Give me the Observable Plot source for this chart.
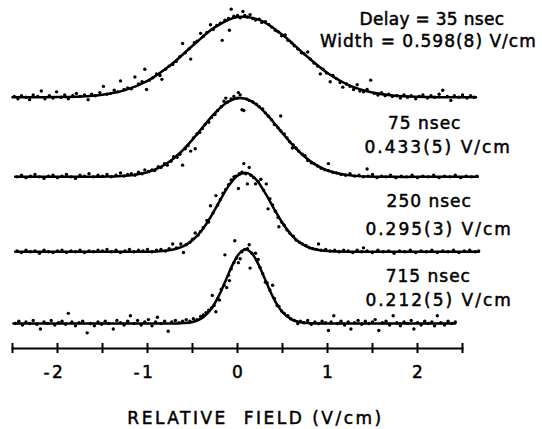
<!DOCTYPE html>
<html>
<head>
<meta charset="utf-8">
<script src="https://cdn.jsdelivr.net/npm/d3@7"></script>
<script src="https://cdn.jsdelivr.net/npm/@observablehq/plot@0.6"></script>
<style>
  html, body { margin: 0; padding: 0; background: #fff; }
  #chart svg { display: block; }
</style>
</head>
<body>
<div id="chart"></div>
<script>
// Field-ionization line profiles at four delays, each with its Gaussian fit.
const delays = [35, 75, 250, 715];              // nsec
const widths = [0.598, 0.433, 0.295, 0.212];    // V/cm
const widthErrors = [8, 5, 3, 5];               // last-digit uncertainty
const traceOffsets = [2.9, 1.88, 0.92, 0];      // vertical display offset of each trace

const majorTicks = [-2, -1, 0, 1, 2];
const minorTicks = [-2.5, -2, -1.5, -1, -0.5, 0, 0.5, 1, 1.5, 2, 2.5];
const axisLabel = "RELATIVE  FIELD (V/cm)";

// Fitted curves: [field, signal]
const curve35 = [[-2.5,0],[-2.25,0.001],[-2,0.003],[-1.75,0.010],[-1.5,0.034],[-1.25,0.092],[-1,0.211],[-0.75,0.407],[-0.5,0.660],[-0.25,0.899],[0,1.029],[0.25,0.990],[0.5,0.801],[0.75,0.545],[1,0.312],[1.25,0.150],[1.5,0.061],[1.75,0.021],[2,0.006],[2.25,0.001],[2.5,0],[2.65,0]];
const curve75 = [[-2.47,0],[-2,0],[-1.75,0],[-1.5,0.002],[-1.25,0.013],[-1,0.060],[-0.875,0.114],[-0.75,0.200],[-0.625,0.322],[-0.5,0.478],[-0.375,0.652],[-0.25,0.819],[-0.125,0.947],[0,1.008],[0.125,0.986],[0.25,0.888],[0.375,0.736],[0.5,0.560],[0.625,0.393],[0.75,0.254],[0.875,0.150],[1,0.082],[1.25,0.019],[1.5,0.003],[1.75,0],[2,0],[2.67,0]];
const curve250 = [[-2.47,0],[-1.5,0],[-1,0.001],[-0.9,0.004],[-0.8,0.012],[-0.7,0.031],[-0.6,0.071],[-0.5,0.147],[-0.4,0.269],[-0.3,0.442],[-0.2,0.646],[-0.1,0.841],[0,0.976],[0.1,1.011],[0.2,0.933],[0.3,0.767],[0.4,0.562],[0.5,0.368],[0.6,0.214],[0.7,0.111],[0.8,0.051],[0.9,0.021],[1,0.008],[1.1,0.003],[1.2,0.001],[1.5,0],[2.68,0]];
const curve715 = [[-2.49,0],[-1,0],[-0.7,0.001],[-0.6,0.005],[-0.5,0.020],[-0.4,0.066],[-0.3,0.175],[-0.25,0.263],[-0.2,0.373],[-0.15,0.500],[-0.1,0.636],[-0.05,0.764],[0,0.868],[0.05,0.933],[0.1,0.950],[0.15,0.913],[0.2,0.830],[0.25,0.715],[0.3,0.582],[0.35,0.448],[0.4,0.326],[0.45,0.225],[0.5,0.147],[0.6,0.053],[0.7,0.015],[0.8,0.004],[0.9,0.001],[1,0],[2.42,0]];

// Measured points: [field, signal]
const dots35 = [[-2.48,0.01],[-2.44,-0.02],[-2.40,0.02],[-2.35,0.00],[-2.31,-0.03],[-2.27,0.03],[-2.22,0.01],[-2.18,0.08],[-2.14,-0.02],[-2.09,0.02],[-2.05,-0.01],[-2.01,0.07],[-1.96,0.00],[-1.92,0.03],[-1.88,-0.02],[-1.83,0.02],[-1.79,0.05],[-1.75,0.01],[-1.70,0.03],[-1.66,-0.03],[-1.62,0.04],[-1.58,0.02],[-1.53,0.06],[-1.49,0.14],[-1.45,0.04],
[-1.41,0.05],[-1.37,0.09],[-1.33,0.07],[-1.30,0.21],[-1.26,0.10],[-1.22,0.12],[-1.18,0.11],[-1.14,0.26],[-1.10,0.17],[-1.06,0.20],[-1.03,0.36],[-1.01,0.10],[-0.98,0.22],[-0.94,0.25],[-0.90,0.30],[-0.86,0.28],[-0.84,0.23],[-0.80,0.36],[-0.76,0.40],[-0.72,0.42],[-0.68,0.46],[-0.64,0.52],[-0.61,0.69],[-0.58,0.57],[-0.54,0.62],[-0.52,0.49],[-0.48,0.70],[-0.45,0.72],[-0.41,0.82],[-0.38,0.78],[-0.34,0.83],[-0.30,0.93],[-0.27,0.87],[-0.23,0.92],[-0.19,0.95],[-0.17,0.73],[-0.14,0.99],[-0.10,1.01],[-0.09,0.86],[-0.07,1.13],[-0.04,1.04],[0.00,1.05],[0.03,1.02],[0.06,1.10],[0.08,1.05],[0.11,1.03],[0.14,1.06],[0.17,1.01],[0.20,0.99],
[0.24,1.00],[0.27,0.96],[0.31,0.97],[0.35,0.93],[0.38,0.90],[0.42,0.86],[0.45,0.84],[0.49,0.79],[0.53,0.80],[0.56,0.73],[0.60,0.70],[0.63,0.66],[0.67,0.62],[0.71,0.57],[0.74,0.56],[0.78,0.58],[0.81,0.49],[0.85,0.44],[0.89,0.40],[0.92,0.30],[0.95,0.36],[0.99,0.31],[1.03,0.20],[1.06,0.28],[1.10,0.24],[1.14,0.19],[1.17,0.13],[1.21,0.17],[1.25,0.14],[1.29,0.10],[1.33,0.16],[1.36,0.08],[1.40,0.07],[1.44,0.10],[1.48,0.22],[1.52,0.05],[1.56,0.03],[1.60,0.06],[1.64,0.02],[1.68,0.04],[1.72,0.01],[1.77,0.02],[1.81,-0.01],[1.85,0.03],[1.89,0.00],[1.93,0.02],[1.98,-0.02],[2.02,0.01],[2.06,0.03],[2.11,-0.01],[2.15,0.02],[2.19,0.00],[2.24,0.04],[2.28,0.09],[2.33,0.01],[2.37,-0.04],[2.41,0.02],[2.46,0.00],[2.50,0.03],[2.55,-0.01],[2.59,0.02],[2.63,0.00]];

const dots75 = [[-2.45,0.00],[-2.40,0.02],[-2.35,-0.01],[-2.30,0.01],[-2.25,0.03],[-2.20,0.00],[-2.15,-0.02],[-2.10,0.01],[-2.05,0.02],[-2.00,-0.01],[-1.95,0.01],[-1.90,0.03],[-1.85,0.00],[-1.80,-0.02],[-1.75,0.02],[-1.70,0.01],[-1.65,0.04],[-1.60,0.00],[-1.55,0.02],[-1.50,0.01],[-1.45,0.03],[-1.40,0.00],[-1.35,0.02],[-1.30,0.05],[-1.26,0.01],[-1.22,0.03],[-1.18,0.04],[-1.14,0.02],[-1.10,0.06],[-1.06,0.04],[-1.03,0.09],[-0.99,0.07],[-0.95,0.09],[-0.92,0.08],[-0.88,0.13],[-0.85,0.12],[-0.81,0.17],[-0.78,0.15],[-0.74,0.20],[-0.71,0.26],[-0.67,0.25],[-0.64,0.29],[-0.61,0.15],[-0.58,0.36],[-0.55,0.40],[-0.52,0.33],[-0.49,0.50],[-0.47,0.36],[-0.45,0.55],[-0.42,0.57],[-0.39,0.62],[-0.36,0.67],[-0.32,0.70],[-0.29,0.76],[-0.25,0.80],[-0.22,0.85],[-0.18,0.90],[-0.15,0.97],[-0.13,1.01],[-0.11,0.96],[-0.07,1.00],[-0.04,1.03],[0.00,1.01],[0.01,1.08],[0.03,1.05],[0.05,0.86],[0.07,0.85],[0.10,1.00],[0.13,0.98],[0.17,0.96],[0.21,0.93],[0.24,0.90],[0.28,0.87],[0.31,0.82],[0.34,0.78],[0.38,0.73],[0.41,0.67],[0.45,0.63],[0.48,0.78],[0.48,0.59],[0.52,0.55],[0.55,0.50],[0.58,0.45],[0.61,0.37],[0.62,0.41],[0.65,0.37],[0.68,0.33],[0.72,0.29],[0.75,0.27],[0.78,0.21],[0.82,0.18],[0.85,0.17],[0.89,0.14],[0.93,0.11],[0.97,0.09],[1.01,0.17],[1.01,0.08],[1.06,0.06],[1.10,0.05],[1.15,0.03],[1.20,0.02],[1.25,0.04],[1.30,0.01],[1.35,0.02],[1.40,0.00],[1.44,0.10],[1.45,0.01],[1.50,0.03],[1.55,-0.01],[1.60,0.01],[1.65,0.00],[1.70,0.02],[1.76,-0.01],[1.82,0.01],[1.88,0.00],[1.94,0.02],[2.00,-0.01],[2.06,0.01],[2.12,0.00],[2.18,0.02],[2.24,-0.01],[2.30,0.01],[2.36,0.00],[2.42,0.02],[2.48,-0.01],[2.54,0.01],[2.60,0.00],[2.66,0.01]];

const dots250 = [[-2.45,0.01],[-2.40,-0.01],[-2.35,0.02],[-2.30,0.00],[-2.25,0.01],[-2.20,-0.02],[-2.15,0.02],[-2.10,0.00],[-2.05,-0.01],[-2.00,0.01],[-1.95,0.02],[-1.90,-0.01],[-1.85,0.01],[-1.80,0.00],[-1.75,0.02],[-1.70,-0.01],[-1.65,0.01],[-1.60,0.00],[-1.55,0.02],[-1.50,0.01],[-1.45,0.03],[-1.40,0.00],[-1.35,0.02],[-1.30,-0.01],[-1.25,0.01],[-1.20,0.03],[-1.15,0.00],[-1.10,0.02],[-1.05,0.01],[-1.00,0.03],[-0.95,0.00],[-0.90,0.02],[-0.85,0.03],[-0.80,0.01],[-0.76,0.04],[-0.72,0.10],[-0.68,0.05],[-0.63,0.10],[-0.60,-0.01],[-0.57,0.09],[-0.53,0.12],[-0.50,0.16],[-0.47,0.24],[-0.44,0.21],[-0.41,0.26],[-0.38,0.31],[-0.34,0.40],[-0.32,0.38],[-0.30,0.59],[-0.27,0.50],[-0.24,0.72],[-0.22,0.60],[-0.19,0.67],[-0.16,0.75],[-0.13,0.80],[-0.10,0.86],[-0.07,0.92],[-0.04,0.96],[-0.02,0.97],[0.01,0.81],[0.02,1.00],[0.05,1.02],[0.07,1.13],[0.09,1.00],[0.11,0.87],[0.13,1.08],[0.15,0.98],[0.18,0.95],[0.20,0.87],[0.23,0.90],[0.26,0.93],[0.29,0.79],[0.32,0.87],[0.34,0.55],[0.36,0.68],[0.39,0.60],[0.42,0.52],[0.45,0.44],[0.46,0.32],[0.49,0.38],[0.52,0.34],[0.55,0.28],[0.58,0.24],[0.62,0.20],[0.65,0.15],[0.69,0.12],[0.72,0.10],[0.76,0.08],[0.80,0.05],[0.84,0.04],[0.88,0.03],[0.90,0.10],[0.93,0.02],[0.98,0.03],[1.03,0.01],[1.08,0.02],[1.13,0.00],[1.18,0.02],[1.23,0.01],[1.28,-0.01],[1.33,0.02],[1.38,0.00],[1.40,0.05],[1.44,0.01],[1.50,-0.01],[1.56,0.02],[1.62,0.00],[1.68,0.01],[1.74,-0.02],[1.80,0.01],[1.86,0.00],[1.92,0.02],[1.98,-0.01],[2.04,0.01],[2.10,0.00],[2.16,0.02],[2.22,-0.01],[2.28,0.01],[2.34,0.00],[2.40,0.02],[2.46,-0.01],[2.52,0.01],[2.58,0.02],[2.64,0.00],[2.68,0.01]];

const dots715 = [[-2.47,0.00],[-2.43,0.03],[-2.39,-0.02],[-2.35,0.02],[-2.31,0.00],[-2.27,0.04],[-2.23,-0.01],[-2.19,-0.07],[-2.15,0.02],[-2.11,0.00],[-2.07,0.04],[-2.03,-0.02],[-1.99,0.01],[-1.95,0.03],[-1.91,-0.01],[-1.88,0.13],[-1.84,0.02],[-1.80,-0.03],[-1.76,0.01],[-1.72,0.03],[-1.67,-0.12],[-1.63,0.00],[-1.59,-0.03],[-1.55,0.02],[-1.51,-0.01],[-1.47,0.03],[-1.43,0.00],[-1.38,-0.07],[-1.34,0.04],[-1.30,0.01],[-1.26,-0.02],[-1.22,0.03],[-1.19,0.10],[-1.15,0.00],[-1.11,0.04],[-1.07,-0.02],[-1.03,0.02],[-0.99,0.05],[-0.95,-0.03],[-0.91,0.02],[-0.89,0.08],[-0.85,0.00],[-0.81,0.03],[-0.77,-0.10],[-0.73,0.02],[-0.69,0.04],[-0.65,0.01],[-0.61,0.03],[-0.57,0.05],[-0.53,0.03],[-0.49,0.06],[-0.45,0.05],[-0.41,0.09],[-0.38,0.11],[-0.35,0.14],[-0.32,0.17],[-0.29,0.20],[-0.28,0.36],[-0.26,0.23],[-0.24,0.15],[-0.22,0.32],[-0.20,0.30],[-0.18,0.44],[-0.15,0.49],[-0.14,0.88],[-0.12,0.46],[-0.10,0.62],[-0.09,0.55],[-0.07,0.70],[-0.04,0.78],[-0.03,1.06],[-0.01,0.84],[0.01,0.78],[0.03,0.83],[0.05,0.92],[0.08,0.95],[0.11,0.96],[0.13,1.01],[0.14,0.71],[0.16,0.90],[0.20,0.90],[0.23,0.82],[0.25,0.72],[0.28,0.64],[0.31,0.53],[0.33,0.52],[0.36,0.43],[0.39,0.49],[0.41,0.32],[0.44,0.23],[0.46,0.22],[0.49,0.16],[0.52,0.13],[0.56,0.10],[0.59,0.06],[0.63,0.04],[0.67,0.00],[0.70,0.03],[0.74,0.01],[0.78,0.04],[0.82,-0.01],[0.86,0.02],[0.90,0.00],[0.94,0.03],[0.98,0.01],[1.01,-0.09],[1.04,0.02],[1.07,0.10],[1.11,0.00],[1.15,0.03],[1.19,-0.02],[1.23,0.02],[1.26,-0.07],[1.30,0.01],[1.34,0.04],[1.38,-0.01],[1.42,0.03],[1.46,0.00],[1.50,0.02],[1.53,0.05],[1.57,-0.09],[1.61,0.01],[1.65,0.03],[1.69,-0.02],[1.73,0.10],[1.77,0.01],[1.81,-0.03],[1.85,0.02],[1.89,0.00],[1.93,0.04],[1.96,-0.07],[2.00,0.01],[2.04,-0.02],[2.08,0.03],[2.12,0.00],[2.16,0.02],[2.19,-0.03],[2.22,0.10],[2.26,0.01],[2.30,-0.02],[2.34,0.03],[2.38,0.00],[2.42,0.02]];

const curves = [curve35, curve75, curve250, curve715];
const dotSets = [dots35, dots75, dots250, dots715];

// Stack the traces by their display offsets.
const lineData = curves.flatMap((c, i) => c.map(([x, s]) => ({trace: i, x, y: traceOffsets[i] + s})));
const dotData = dotSets.flatMap((d, i) => d.map(([x, s]) => ({trace: i, x, y: traceOffsets[i] + s})));

// Annotation text for each trace.
const labelTexts = [
  `Delay = ${delays[0]} nsec`, `Width = ${widths[0].toFixed(3)}(${widthErrors[0]}) V/cm`,
  `${delays[1]} nsec`, `${widths[1].toFixed(3)}(${widthErrors[1]}) V/cm`,
  `${delays[2]} nsec`, `${widths[2].toFixed(3)}(${widthErrors[2]}) V/cm`,
  `${delays[3]} nsec`, `${widths[3].toFixed(3)}(${widthErrors[3]}) V/cm`
];
// Placement of the annotations (field, stacked signal of the text baseline) and their tracking.
const labelAt = [[2.16, 3.83], [2.12, 3.54], [2.08, 2.50], [2.23, 2.19], [2.13, 1.49], [2.24, 1.13], [2.12, 0.53], [2.24, 0.23]];
const labelTracking = ["0.3px", "1px", "1px", "2px", "1px", "2px", "1px", "2px"];
const labels = labelTexts.map((text, i) => ({text, x: labelAt[i][0], y: labelAt[i][1]}));

const font = "DejaVu Sans, sans-serif";
// A thin outline gives the lettering a heavier, pen-drawn weight.
const ink = {stroke: "black", strokeWidth: 0.5, fill: "black"};

const chart = Plot.plot({
  width: 542,
  height: 429,
  marginLeft: 12,
  marginRight: 80,
  marginTop: 11,
  marginBottom: 81,
  x: {domain: [-2.5, 2.5]},
  y: {domain: [-0.3205, 4], axis: null},
  style: {fontFamily: font, fontSize: "17px", color: "black", background: "white", overflow: "visible"},
  marks: [
    Plot.frame({anchor: "bottom", strokeWidth: 2}),
    Plot.axisX(minorTicks, {tickSize: 10, dy: -5, strokeWidth: 2, fill: "none", label: null}),
    Plot.axisX(majorTicks, {tickSize: 0, tickPadding: 17, tickFormat: d => String(Math.abs(d)), label: null, fontSize: 17, textStroke: "black", textStrokeWidth: 0.5}),
    Plot.text(majorTicks.filter(d => d < 0), {x: d => d, text: () => "-", frameAnchor: "bottom", lineAnchor: "bottom", dy: 29, dx: -11, fontSize: 17, ...ink}),
    Plot.line(lineData, {x: "x", y: "y", z: "trace", curve: "catmull-rom", stroke: "black", strokeWidth: 2.5}),
    Plot.dot(dotData, {x: "x", y: "y", r: 1.7, fill: "black", stroke: "none"}),
    Plot.text(labels, {x: "x", y: "y", text: "text", lineAnchor: "bottom", fontSize: 17, ...ink}),
    Plot.text([axisLabel], {text: d => d, frameAnchor: "bottom", lineAnchor: "bottom", dy: 75, dx: 18, fontSize: 17, ...ink})
  ]
});

const svg = d3.select(chart);
svg.selectAll("text")
  .filter(function () { return this.textContent === axisLabel; })
  .style("letter-spacing", "2.5px")
  .style("white-space", "pre");
labelTexts.forEach((t, i) => {
  svg.selectAll("text")
    .filter(function () { return this.textContent === t; })
    .style("letter-spacing", labelTracking[i]);
});

document.getElementById("chart").appendChild(chart);
</script>
</body>
</html>
